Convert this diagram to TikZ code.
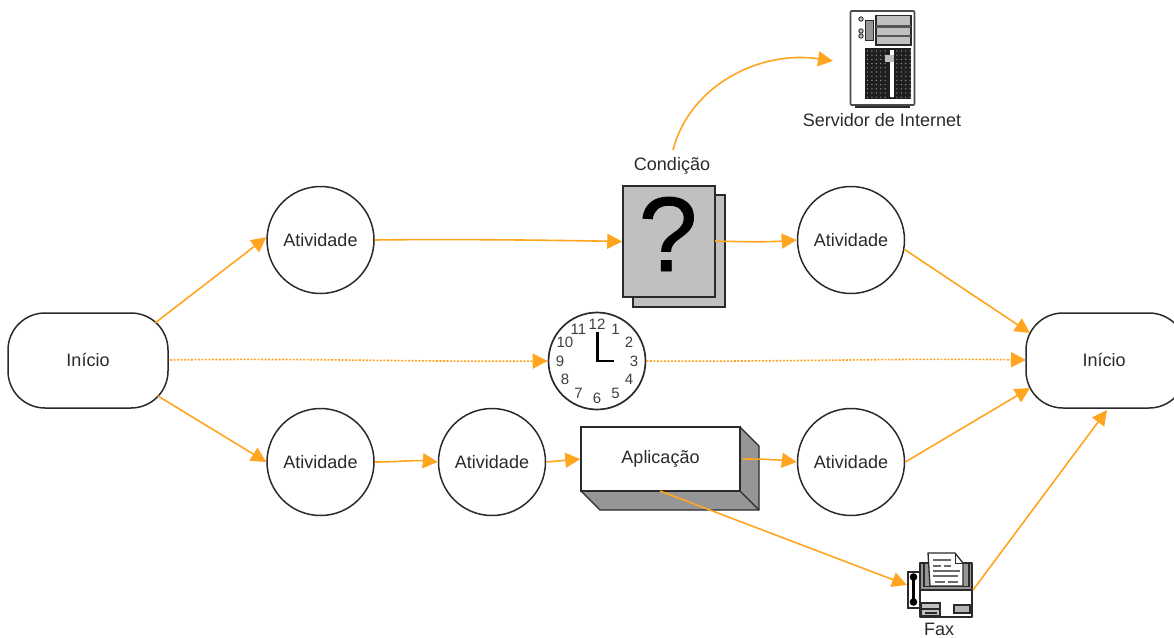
\documentclass[tikz,border=0pt]{standalone}
\usepackage{fontspec}
\setmainfont{Liberation Sans}
\newfontfamily\qfont[FakeBold=0.8]{Liberation Sans}
\usetikzlibrary{arrows.meta,calc}
\definecolor{flow}{HTML}{FFA51F}
\definecolor{ink}{HTML}{2A2A2A}
\definecolor{panel}{HTML}{C0C0C0}
\definecolor{sidegray}{HTML}{969696}
\newcommand{\up}[1]{\raisebox{1pt}{#1}}
\tikzset{
 lbl/.style={font=\fontsize{18}{20}\selectfont,text=ink,inner sep=0pt},
 act/.style={circle,draw=ink,line width=1.5pt,fill=white,minimum size=107pt,inner sep=0pt,font=\fontsize{18}{20}\selectfont,text=ink},
 term/.style={rectangle,draw=ink,line width=1.5pt,fill=white,rounded corners=37pt,minimum width=160pt,minimum height=95pt,inner sep=0pt,font=\fontsize{18}{20}\selectfont,text=ink},
 flowline/.style={draw=flow,line width=1.6pt,-{Triangle[length=15pt,width=15pt]}},
 flowdot/.style={draw=flow,line width=1.6pt,dash pattern=on 2pt off 1.5pt,-{Triangle[length=15pt,width=15pt]}},
 iconline/.style={draw=ink,line width=1.3pt},
 clocknum/.style={font=\fontsize{15}{16}\selectfont,text=ink!90,inner sep=0pt},
}
\begin{document}
\begin{tikzpicture}[x=1pt,y=-1pt]
\useasboundingbox (0,0) rectangle (1174,637);
\clip (0,0) rectangle (1174,637);
% terminals and activities
\node[term] (ini) at (88,360.5) {\up{Início}};
\node[term] (fim) at (1106,360.5) {\hspace*{-4pt}\up{Início}};
\node[act] (a1) at (320.5,240) {\up{Atividade}};
\node[act] (a2) at (320.5,462) {\up{Atividade}};
\node[act] (a3) at (851,240) {\up{Atividade}};
\node[act] (a4) at (492,462) {\up{Atividade}};
\node[act] (a5) at (851,462) {\up{Atividade}};
% condition
\draw[iconline,fill=panel] (633,195) rectangle (725,307);
\node[rectangle,draw=ink,line width=1.5pt,fill=panel,minimum width=92pt,minimum height=111pt,inner sep=0pt] (cond) at (669,241.5) {};
\node[inner sep=0pt,font=\qfont\fontsize{106}{106}\selectfont,text=black] (qm) at (668,234) {?};
\node[lbl] (condlbl) at (672,165.5) {Condição};
% clock
\node[circle,draw=ink,line width=1.7pt,fill=white,minimum size=97pt,inner sep=0pt] (clk) at (597,361) {};
\foreach \n/\ang in {12/90,1/60,2/30,3/0,4/-30,5/-60,6/-90,7/-120,8/-150,9/180,10/150,11/120}{
  \node[clocknum] (num\n) at ($(clk)+({37*cos(\ang)},{-37*sin(\ang)})$) {\n};
}
\draw[draw=black,line width=2.4pt] (597.5,332) -- (597.5,361) -- (614,361);
% application
\draw[iconline,fill=sidegray,line join=round] (581,491) -- (600,510) -- (759,510) -- (759,446) -- (740,427) -- (740,491) -- cycle;
\draw[iconline] (740,491) -- (759,510);
\node[rectangle,draw=ink,line width=1.5pt,fill=white,minimum width=159pt,minimum height=64pt,inner sep=0pt,font=\fontsize{18}{20}\selectfont,text=ink] (app) at (660.5,459) {\raisebox{1pt}{Aplicação}};
% server
\fill[ink] (855,104) rectangle (910,107.5);
\node[rectangle,draw=ink!85,line width=1.7pt,fill=white,minimum width=64pt,minimum height=94pt,inner sep=0pt,rounded corners=1pt] (srv) at (882.5,58) {};
\draw[draw=ink,line width=1.1pt,fill=panel] (876,15.5) rectangle (911,45);
\fill[ink!80] (876,25) rectangle (911,27.5);
\fill[ink!80] (876,34.5) rectangle (911,37);
\draw[draw=ink,line width=1pt,fill=sidegray] (865,20) rectangle (873,40);
\foreach \yy in {19,31,36}{\draw[draw=ink,line width=.9pt,fill=panel] (861,\yy) circle (2.2);}
\fill[black!88] (865,48) rectangle (911,99);
\foreach \i in {0,...,9}{\foreach \j in {0,...,11}{
  \fill[sidegray] ({867.5+\i*4.4+(\i>4?3:0)},{51+\j*4.2}) circle (.7);
}}
\fill[white] (890,50) rectangle (894,97);
\fill[panel] (885,55) rectangle (894,62);
\node[lbl] (srvlbl) at (882,120) {Servidor de Internet};
% fax
\draw[iconline,fill=white,line join=round] (920,563) rectangle (972,617);
\fill[sidegray] (921,564) rectangle (971,589);
\draw[iconline] (924,563) -- (924,586.5) -- (969,586.5) -- (969,563);
\draw[iconline,fill=white,line join=round] (928,553) -- (955,553) -- (963,563) -- (963,586) -- (930,586) -- cycle;
\draw[draw=ink,line width=.9pt] (955,553) -- (955,563) -- (963,563);
\foreach \ya/\xa/\xb in {560/933/951,566/933/941,566/944/951,571/933/960,576/933/958,582/935/945,582/948/958}{
  \draw[draw=ink!70,line width=1.3pt] (\xa,\ya) -- (\xb,\ya);
}
\draw[iconline] (920,590) -- (972,590);
\draw[iconline,fill=white] (908,572) rectangle (920,608);
\draw[draw=black,line width=3.4pt] (913.5,576) -- (913.5,603);
\fill[black] (913.5,577) circle (3.8) (913.5,602) circle (3.8);
\draw[iconline,fill=panel] (921,603) rectangle (940,616);
\draw[iconline] (921,609) -- (940,609);
\draw[iconline,fill=sidegray!70] (954,605) rectangle (970,613);
\draw[draw=ink,line width=2pt] (925,612.5) -- (937,612.5);
\node[lbl] (faxlbl) at (939,629) {Fax};
% connector ends
\coordinate (iniA) at (155,323);
\coordinate (iniB) at (158,396);
\coordinate (iniC) at (170,360);
\coordinate (fimA) at (1030,333);
\coordinate (fimB) at (1026,360);
\coordinate (fimC) at (1030,388);
\coordinate (fimD) at (1107,410);
\coordinate (condE) at (715,241);
\coordinate (appE) at (743,459);
\coordinate (appS) at (660,491);
\coordinate (faxW) at (907,585);
\coordinate (faxE) at (973,590);
\coordinate (srvW) at (833,61);
\coordinate (condN) at (673,150);
% connectors
\draw[flowline] (iniA) -- (a1.177);
\draw[flowline] (iniB) -- (a2.180);
\draw[flowdot] (iniC) .. controls (300,358) and (420,362) .. (clk.west);
\draw[flowdot] (clk.east) .. controls (780,362) and (900,358) .. (fimB);
\draw[flowline] (a1.east) .. controls (450,239) and (540,240) .. (cond.west);
\draw[flowline] (condE) .. controls (745,242) and (770,242) .. (a3.west);
\draw[flowline] (a3.-10) -- (fimA);
\draw[flowline] (a5.east) -- (fimC);
\draw[flowline] (a2.east) .. controls (395,462) and (415,460) .. (a4.west);
\draw[flowline] (a4.east) -- (app.west);
\draw[flowline] (appE) .. controls (765,459) and (780,460) .. (a5.west);
\draw[flowline] (appS) -- (faxW);
\draw[flowline] (faxE) -- (fimD);
\draw[flowline] (condN) .. controls (690,85) and (760,50) .. (srvW);
\end{tikzpicture}
\end{document}
